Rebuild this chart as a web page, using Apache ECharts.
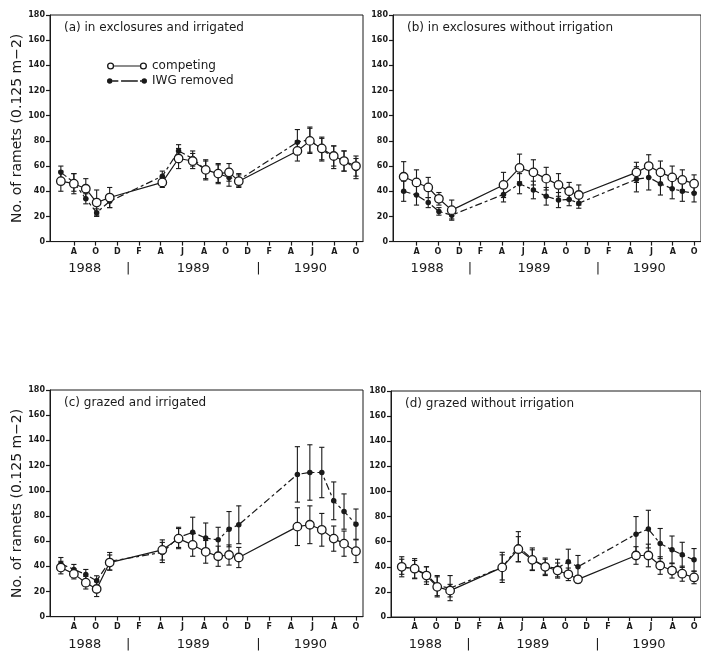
<!DOCTYPE html>
<html><head><meta charset="utf-8">
<script src="https://cdn.jsdelivr.net/npm/echarts@6/dist/echarts.min.js"></script>
<style>html,body{margin:0;padding:0;background:#fff}#c{width:701px;height:651px}</style>
</head><body><div id="c"></div>
<script>
// months since Jan 1988 (0 = start of Jan 1988)
const dates = [5.8, 7.0, 8.1, 9.1, 10.3, 15.15, 16.65, 17.95, 19.15, 20.3, 21.3, 22.2, 27.6, 28.75, 29.85, 30.95, 31.9, 33.0];
const monthTicks = [7, 9, 11, 13, 15, 17, 19, 21, 23, 25, 27, 29, 31, 33];
const monthLabels = ['A','O','D','F','A','J','A','O','D','F','A','J','A','O'];
const yearPos = [8, 12, 18, 24, 28.8];
const yearLabels = ['1988', '|', '1989', '|', '1990'];
const seriesNames = ['competing', 'IWG removed'];
const panelTitles = ['(a) in exclosures and irrigated', '(b) in exclosures without irrigation', '(c) grazed and irrigated', '(d) grazed without irrigation'];

const aCompMean = [48, 46, 42, 31, 35, 47, 66, 64, 57, 54, 55, 48, 72, 80, 74, 68, 64, 60];
const aCompErr  = [8, 8, 8, 10, 8, 4, 8, 6, 7, 7, 7, 5, 8, 10, 9, 8, 8, 8];
const aRemMean  = [55, 47, 34, 23, 32, 52, 72, 66, 57, 54, 51, 49, 79, 81, 73, 67, 64, 58];
const aRemErr   = [5, 7, 4, 3, 5, 4, 5, 6, 8, 8, 7, 5, 10, 10, 9, 9, 8, 8];

const bCompMean = [51.5, 47, 43, 34, 25, 45, 58.5, 55, 50, 45, 40, 37, 55, 60, 55, 51, 49, 46];
const bCompErr  = [12, 10, 8, 5, 8, 10, 11, 10, 9, 9, 7, 8, 8, 9, 9, 9, 8, 7];
const bRemMean  = [40, 37, 31, 24, 21, 37.5, 46, 41, 36, 33, 33.5, 30.5, 49.5, 51, 46, 42, 40, 38.5];
const bRemErr   = [8, 8, 4, 3, 3, 6, 8, 7, 7, 6, 5, 4, 10, 10, 9, 8, 8, 7];

const cCompMean = [39, 34, 27, 22, 43, 53, 62, 57, 51.5, 48, 49, 47, 71.5, 73, 69, 62, 58, 52];
const cCompErr  = [5, 4, 5, 6, 6, 8, 8, 9, 9, 8, 8, 8, 15, 15, 13, 10, 10, 9];
const cRemMean  = [42, 37.5, 33.5, 28.5, 44, 51, 63, 67, 62.4, 61, 69.5, 73, 113, 114.5, 114.5, 92, 83.5, 73.5];
const cRemErr   = [5, 4, 4, 4, 7, 8, 8, 12, 12, 10, 14, 15, 22, 22, 20, 15, 14, 12];

const dCompMean = [40, 38.5, 33, 24, 21, 39.5, 54, 45.5, 40, 37, 34, 30, 49, 49, 41, 37, 34.5, 31.5];
const dCompErr  = [8, 8, 7, 8, 5, 10, 10, 8, 6, 6, 5, 3, 7, 9, 7, 6, 6, 5];
const dRemMean  = [40, 38, 34, 25, 23, 39.5, 56, 46, 40, 39, 44, 40, 66, 70, 58.5, 53.5, 49.5, 45.5];
const dRemErr   = [6, 7, 6, 8, 10, 12, 12, 9, 7, 7, 10, 9, 14, 15, 12, 11, 10, 9];

const panels = [
  {comp: aCompMean, compErr: aCompErr, rem: aRemMean, remErr: aRemErr},
  {comp: bCompMean, compErr: bCompErr, rem: bRemMean, remErr: bRemErr},
  {comp: cCompMean, compErr: cCompErr, rem: cRemMean, remErr: cRemErr},
  {comp: dCompMean, compErr: dCompErr, rem: dRemMean, remErr: dRemErr}
];

const INK = '#1a1a1a';
const FONT = 'DejaVu Sans';
const gridPos = [
  {left: 50, top: 15, width: 313, height: 226.6},
  {left: 393, top: 15, width: 313, height: 226.6},
  {left: 50, top: 390, width: 313, height: 226.7},
  {left: 391, top: 391, width: 313, height: 226}
];
const XMIN = 4.8, XMAX = 4.8 + 313 / 10.85;

const grids = [], xAxes = [], yAxes = [], series = [], titles = [];
gridPos.forEach((g, i) => {
  grids.push(Object.assign({show: true, borderColor: INK, borderWidth: 1, backgroundColor: 'transparent'}, g));
  xAxes.push({
    type: 'value', gridIndex: i, min: XMIN, max: XMAX,
    axisLine: {lineStyle: {color: INK, width: 1}},
    axisTick: {show: true, length: 4, customValues: monthTicks, lineStyle: {color: INK, width: 1.2}},
    axisLabel: {customValues: monthTicks, formatter: v => monthLabels[monthTicks.indexOf(v)] || '',
      color: INK, fontFamily: FONT, fontSize: 8, fontWeight: 'bold', margin: 6},
    splitLine: {show: false}
  });
  xAxes.push({
    type: 'value', gridIndex: i, min: XMIN, max: XMAX, position: 'bottom',
    axisLine: {show: false}, axisTick: {show: false},
    axisLabel: {customValues: yearPos, formatter: v => yearLabels[yearPos.indexOf(v)] || '',
      color: INK, fontFamily: FONT, fontSize: 13, margin: 21},
    splitLine: {show: false}
  });
  yAxes.push({
    type: 'value', gridIndex: i, min: 0, max: 180, interval: 20,
    name: (i % 2 === 0) ? 'No. of ramets (0.125 m\u22122)' : '',
    nameLocation: 'middle', nameGap: 25,
    nameTextStyle: {color: INK, fontFamily: FONT, fontSize: 14},
    axisLine: {show: true, lineStyle: {color: INK, width: 1}},
    axisTick: {show: true, length: 4, lineStyle: {color: INK, width: 1.2}},
    axisLabel: {color: INK, fontFamily: FONT, fontSize: 8, fontWeight: 'bold', margin: 5},
    splitLine: {show: false}
  });
  titles.push({text: panelTitles[i], left: g.left + 9, top: g.top + 2,
    textStyle: {color: INK, fontFamily: FONT, fontSize: 12, fontWeight: 'normal'}});

  const p = panels[i];
  const mkErr = (mean, err) => dates.map((d, k) => [d, mean[k] - err[k], mean[k] + err[k]]);
  const errRender = (params, api) => {
    const x = api.value(0);
    const lo = api.coord([x, api.value(1)]);
    const hi = api.coord([x, api.value(2)]);
    const w = 2.6;
    const st = {stroke: INK, lineWidth: 1.1};
    return {type: 'group', children: [
      {type: 'line', shape: {x1: lo[0], y1: lo[1], x2: hi[0], y2: hi[1]}, style: st},
      {type: 'line', shape: {x1: lo[0] - w, y1: lo[1], x2: lo[0] + w, y2: lo[1]}, style: st},
      {type: 'line', shape: {x1: hi[0] - w, y1: hi[1], x2: hi[0] + w, y2: hi[1]}, style: st}
    ]};
  };
  series.push({type: 'custom', name: seriesNames[0], xAxisIndex: 2 * i, yAxisIndex: i, z: 1,
    renderItem: errRender, data: mkErr(p.comp, p.compErr), silent: true});
  series.push({type: 'custom', name: seriesNames[1], xAxisIndex: 2 * i, yAxisIndex: i, z: 1,
    renderItem: errRender, data: mkErr(p.rem, p.remErr), silent: true});
  series.push({type: 'line', name: seriesNames[1], xAxisIndex: 2 * i, yAxisIndex: i, z: 3,
    data: dates.map((d, k) => [d, p.rem[k]]),
    symbol: 'circle', symbolSize: 5.5,
    itemStyle: {color: INK},
    lineStyle: {color: INK, width: 1.2, type: [7, 3, 3, 3]}});
  series.push({type: 'line', name: seriesNames[0], xAxisIndex: 2 * i, yAxisIndex: i, z: 4,
    data: dates.map((d, k) => [d, p.comp[k]]),
    symbol: 'circle', symbolSize: 8.5,
    itemStyle: {color: '#fff', borderColor: INK, borderWidth: 1.3},
    lineStyle: {color: INK, width: 1.2, type: 'solid'}});
});

const compIcon = 'path://M0.5,5 A3.5,3.5 0 1,1 7.5,5 A3.5,3.5 0 1,1 0.5,5 Z M1.8,5 A2.2,2.2 0 1,0 6.2,5 A2.2,2.2 0 1,0 1.8,5 Z ' +
  'M32.5,5 A3.5,3.5 0 1,1 39.5,5 A3.5,3.5 0 1,1 32.5,5 Z M33.8,5 A2.2,2.2 0 1,0 38.2,5 A2.2,2.2 0 1,0 33.8,5 Z ' +
  'M7.5,4.4 L32.5,4.4 L32.5,5.6 L7.5,5.6 Z';
const remIcon = 'path://M1.5,5 A2.5,2.5 0 1,1 6.5,5 A2.5,2.5 0 1,1 1.5,5 Z M33.5,5 A2.5,2.5 0 1,1 38.5,5 A2.5,2.5 0 1,1 33.5,5 Z ' +
  'M6.5,4.4 L12,4.4 L12,5.6 L6.5,5.6 Z M14.5,4.4 L30,4.4 L30,5.6 L14.5,5.6 Z M32,4.4 L33.5,4.4 L33.5,5.6 L32,5.6 Z';

const chart = echarts.init(document.getElementById('c'), null, {renderer: 'canvas'});
chart.setOption({
  animation: false,
  backgroundColor: '#fff',
  title: titles,
  legend: {
    orient: 'vertical', left: 102, top: 55, itemGap: 3, itemWidth: 40, itemHeight: 10,
    data: [
      {name: seriesNames[0], icon: compIcon, itemStyle: {color: INK, borderWidth: 0}},
      {name: seriesNames[1], icon: remIcon, itemStyle: {color: INK, borderWidth: 0}}
    ],
    textStyle: {color: INK, fontFamily: FONT, fontSize: 12, padding: [0, 0, 0, 0]},
    selectedMode: false
  },
  grid: grids, xAxis: xAxes, yAxis: yAxes, series: series
});
</script></body></html>
